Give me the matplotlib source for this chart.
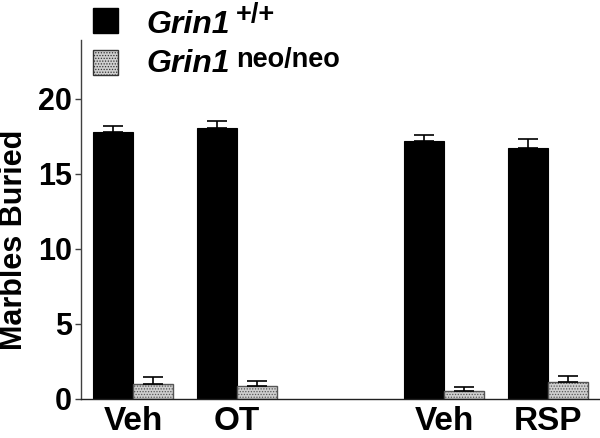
import numpy as np
import matplotlib
matplotlib.use('Agg')
import matplotlib.pyplot as plt
from matplotlib.patches import Rectangle

plt.rcParams['font.family'] = ['Liberation Sans', 'DejaVu Sans']
plt.rcParams['font.weight'] = 'bold'
plt.rcParams['hatch.linewidth'] = 0.6

# --- datos ---
categories = ['Veh', 'OT', 'Veh', 'RSP']
positions = [0, 1, 3, 4]
wt_mean = [17.8, 18.07, 17.2, 16.73]
wt_sem = [0.4, 0.42, 0.35, 0.6]
neo_mean = [1.0, 0.87, 0.55, 1.12]
neo_sem = [0.47, 0.33, 0.27, 0.4]

fig = plt.figure(figsize=(6.0, 4.38), dpi=100)
W, H = 600, 438
ax = fig.add_axes([81 / W, 1 - 399 / H, 1 - 81 / W, (399 - 40) / H])

x = np.array(positions, dtype=float)
w = 0.385

ax.bar(x - w / 2, wt_mean, w, color='black', edgecolor='black', linewidth=0.8, zorder=2)
ax.bar(x + w / 2, neo_mean, w, color='#cfcfcf', edgecolor='#555555', hatch='......',
       linewidth=1.0, zorder=2)

ax.errorbar(x - w / 2, wt_mean, yerr=[np.zeros(4), wt_sem], fmt='none', ecolor='black',
            elinewidth=1.2, capsize=7, capthick=1.2, zorder=3)
ax.errorbar(x + w / 2, neo_mean, yerr=[np.zeros(4), neo_sem], fmt='none', ecolor='black',
            elinewidth=1.2, capsize=7, capthick=1.2, zorder=3)

ax.set_xlim(-0.501, 4.50)
ax.set_ylim(0, 23.9)
ax.set_yticks([0, 5, 10, 15, 20])
ax.set_xticks(x)
ax.set_xticklabels(categories, fontsize=24, fontweight='bold')
ax.tick_params(axis='y', labelsize=22, length=4, width=1, color='#404040', pad=2.5)
ax.tick_params(axis='x', length=0, pad=5)
for lab in ax.get_yticklabels():
    lab.set_fontweight('bold')

ax.spines['top'].set_visible(False)
ax.spines['right'].set_visible(False)
ax.spines['left'].set_color('#404040')
ax.spines['bottom'].set_color('#202020')
ax.spines['left'].set_linewidth(1)
ax.spines['bottom'].set_linewidth(1)

fig.text(14 / W, 1 - 240 / H, 'Marbles Buried', rotation=90, fontsize=22, fontweight='bold',
         ha='center', va='center')

# --- leyenda ---
fig.add_artist(Rectangle((93 / W, 1 - 33 / H), 25 / W, 25 / H, transform=fig.transFigure,
                         facecolor='black', edgecolor='black'))
fig.add_artist(Rectangle((93 / W, 1 - 75 / H), 25 / W, 25 / H, transform=fig.transFigure,
                         facecolor='#cfcfcf', edgecolor='#333333', hatch='......', linewidth=1))
fig.text(146 / W, 1 - 33 / H, 'Grin1', fontsize=23, fontweight='bold', style='italic',
         ha='left', va='baseline')
fig.text(236 / W, 1 - 22 / H, '+/+', fontsize=19.5, fontweight='bold', ha='left', va='baseline')
fig.text(146 / W, 1 - 72 / H, 'Grin1', fontsize=23, fontweight='bold', style='italic',
         ha='left', va='baseline')
fig.text(236 / W, 1 - 67 / H, 'neo/neo', fontsize=19.5, fontweight='bold', ha='left', va='baseline')

plt.savefig('out.png', dpi=100)
